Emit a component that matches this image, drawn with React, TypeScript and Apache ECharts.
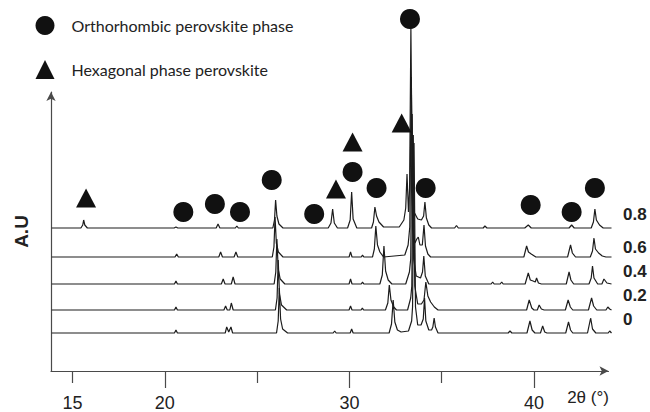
import React, { useEffect, useRef } from "react";
import * as echarts from "echarts";

// ---- data -------------------------------------------------------------
// Diffraction profiles, [2θ (deg), intensity above the trace's own baseline]
const TRACE_LABELS = ["0.8", "0.6", "0.4", "0.2", "0"];
// vertical offset of each stacked profile (same units as intensity)
const TRACE_OFFSETS = [143, 114, 87, 61, 38];

const PROFILE_08 = [
  [13.87, 0],
  [15.45, 0], [15.55, 3], [15.6, 8], [15.66, 3], [15.8, 0],
  [20.5, 0], [20.6, 1], [20.7, 0],
  [22.78, 0], [22.88, 4], [22.98, 0],
  [23.82, 0], [23.9, 2], [23.98, 0],
  [25.85, 0], [25.94, 8], [26.0, 28], [26.07, 12], [26.18, 4], [26.4, 0],
  [28.85, 0], [29.0, 5], [29.09, 19], [29.18, 5], [29.35, 0],
  [29.9, 0], [30.04, 8], [30.12, 36], [30.2, 9], [30.4, 0],
  [31.2, 0], [31.3, 6], [31.38, 21], [31.47, 12], [31.6, 6], [31.85, 1],
  [32.7, 1], [32.95, 8], [33.05, 20], [33.12, 54], [33.2, 16], [33.26, 40],
  [33.33, 200], [33.41, 40], [33.5, 16], [33.7, 9], [33.9, 8], [34.02, 12],
  [34.09, 26], [34.17, 10], [34.3, 3], [34.45, 0],
  [35.7, 0], [35.8, 2.5], [35.9, 0],
  [37.25, 0], [37.34, 2], [37.45, 0],
  [39.5, 0], [39.69, 3], [39.85, 0],
  [41.9, 0], [42.04, 3], [42.18, 0],
  [43.1, 0], [43.22, 6], [43.3, 19], [43.38, 8], [43.55, 3], [43.75, 0],
  [44.2, 0],
];

const PROFILE_06 = [
  [13.87, 0],
  [20.55, 0], [20.64, 3], [20.73, 0],
  [22.92, 0], [23.02, 5], [23.12, 0],
  [23.75, 0], [23.85, 5], [23.95, 0],
  [25.82, 0], [25.91, 10], [25.97, 40], [26.04, 14], [26.15, 5], [26.4, 0],
  [29.98, 0], [30.06, 5], [30.14, 0],
  [30.64, 0], [30.71, 2], [30.78, 0],
  [31.25, 0], [31.35, 8], [31.43, 31], [31.52, 12], [31.65, 5], [31.85, 0],
  [33.0, 2], [33.18, 12], [33.27, 30], [33.35, 180], [33.43, 28], [33.55, 14],
  [33.65, 18], [33.73, 20], [33.82, 12], [33.95, 12], [34.04, 32], [34.12, 11],
  [34.25, 3], [34.4, 0],
  [39.45, 0], [39.6, 11], [39.7, 5], [39.85, 3], [40.1, 0],
  [41.82, 0], [41.98, 12], [42.08, 4], [42.25, 0],
  [43.05, 0], [43.17, 6], [43.25, 19], [43.33, 8], [43.5, 4], [43.7, 1], [43.9, 0],
  [44.2, 0],
];

const PROFILE_04 = [
  [13.87, 0],
  [20.52, 0], [20.6, 3], [20.68, 0],
  [23.06, 0], [23.16, 5], [23.26, 0],
  [23.6, 0], [23.7, 7], [23.8, 0],
  [25.92, 0], [26.01, 12], [26.07, 45], [26.14, 15], [26.25, 5], [26.5, 0],
  [29.98, 0], [30.06, 5], [30.14, 0],
  [30.64, 0], [30.71, 2], [30.78, 0],
  [31.65, 0], [31.78, 9], [31.87, 38], [31.96, 13], [32.1, 4], [32.3, 0],
  [33.05, 0], [33.25, 12], [33.32, 25], [33.4, 170], [33.48, 25], [33.62, 8],
  [33.85, 6], [33.96, 12], [34.03, 28], [34.11, 8], [34.3, 0],
  [37.68, 0], [37.76, 2], [37.84, 0],
  [38.17, 0], [38.25, 2], [38.33, 0],
  [39.52, 0], [39.69, 11], [39.8, 4], [39.95, 3], [40.07, 2], [40.14, 6], [40.24, 1], [40.4, 0],
  [41.75, 0], [41.9, 12], [42.0, 4], [42.15, 0],
  [42.98, 0], [43.1, 6], [43.17, 18], [43.25, 6], [43.45, 0],
  [43.68, 0], [43.79, 5], [43.95, 1], [44.2, 0],
];

const PROFILE_02 = [
  [13.87, 0],
  [20.52, 0], [20.6, 3], [20.68, 0],
  [23.2, 0], [23.29, 4], [23.38, 0], [23.52, 0], [23.6, 7], [23.7, 0],
  [25.99, 0], [26.08, 12], [26.14, 50], [26.21, 16], [26.32, 5], [26.6, 0],
  [29.98, 0], [30.06, 4], [30.14, 0],
  [30.63, 0], [30.7, 2], [30.77, 0],
  [31.95, 0], [32.08, 7], [32.16, 25], [32.25, 10], [32.4, 3], [32.55, 0],
  [33.15, 0], [33.32, 12], [33.38, 24], [33.46, 175], [33.54, 24], [33.7, 6],
  [33.9, 6], [34.04, 10], [34.14, 28], [34.25, 14], [34.4, 8], [34.6, 3], [34.8, 0],
  [39.6, 0], [39.74, 10], [39.88, 2], [40.0, 0],
  [40.18, 0], [40.28, 5], [40.4, 1], [40.55, 0],
  [41.7, 0], [41.85, 10], [41.97, 3], [42.1, 0],
  [42.95, 0], [43.12, 12], [43.23, 4], [43.4, 0],
  [43.9, 0], [44.0, 3], [44.1, 1], [44.2, 0],
];

const PROFILE_0 = [
  [13.87, 0],
  [20.52, 0], [20.6, 3], [20.68, 0],
  [23.27, 0], [23.35, 6], [23.46, 1], [23.58, 6], [23.67, 0],
  [26.05, 0], [26.14, 12], [26.2, 45], [26.27, 14], [26.38, 4], [26.65, 0],
  [29.12, 0], [29.2, 2], [29.28, 0],
  [30.04, 0], [30.12, 4], [30.2, 0],
  [32.15, 0], [32.28, 9], [32.37, 33], [32.46, 11], [32.6, 3], [32.8, 1],
  [33.2, 2], [33.37, 12], [33.42, 26], [33.5, 190], [33.58, 26], [33.7, 8],
  [33.88, 8], [34.0, 14], [34.07, 35], [34.14, 12], [34.3, 3], [34.45, 3],
  [34.52, 6], [34.59, 15], [34.66, 6], [34.8, 0],
  [38.6, 0], [38.7, 2], [38.8, 0],
  [39.62, 0], [39.78, 12], [39.9, 3], [40.05, 0],
  [40.35, 0], [40.47, 7], [40.58, 1], [40.7, 0],
  [41.72, 0], [41.87, 11], [41.98, 3], [42.1, 0],
  [42.9, 0], [43.07, 15], [43.17, 4], [43.35, 0],
  [44.02, 0], [44.1, 2], [44.2, 0],
];

const PROFILES = [PROFILE_08, PROFILE_06, PROFILE_04, PROFILE_02, PROFILE_0];

// Phase markers placed above their reflections, [2θ, height]
const ORTHO_NAME = "Orthorhombic perovskite phase";
const HEX_NAME = "Hexagonal phase perovskite";
const ORTHO_MARKS = [
  [21.0, 159], [22.71, 167], [24.07, 159], [25.79, 191], [28.09, 157],
  [30.17, 199], [31.47, 183], [33.28, 352], [34.13, 183], [39.82, 166],
  [42.04, 159], [43.3, 183],
];
const HEX_MARKS = [[15.73, 173], [29.27, 182], [30.17, 229], [32.83, 248]];

const MAJOR_TICKS = [20, 30, 40];
const MINOR_TICKS = [15, 25, 35];
const TICK_LABELS = [15, 20, 30, 40];

// ---- layout -----------------------------------------------------------
const W = 650;
const H = 412;
const PLOT_LEFT = 51;
const AXIS_Y = 371;
const X_MIN = 13.83;
const PX_PER_DEG = 18.456;
const AXIS_END_PX = 608.5; // arrow tip lands ~4.5px further right
const TRACE_END_PX = 615;
const AXIS_TOP_PX = 92;
const DATA_TOP_PX = 11;
const LABEL_Y = [214, 247, 271, 295, 319];

const INK = "#1c1c1c";
const MARK = "#111111";
const AXIS_COLOR = "#4a4a4a";
const SANS = '"Liberation Sans", Arial, sans-serif';

export default function App() {
  const ref = useRef<HTMLDivElement>(null);

  useEffect(() => {
    if (!ref.current) return;
    const chart = echarts.init(ref.current, null, { renderer: "svg" });

    const axisMax = X_MIN + (AXIS_END_PX - PLOT_LEFT) / PX_PER_DEG;
    const dataMax = X_MIN + (TRACE_END_PX - PLOT_LEFT) / PX_PER_DEG;
    const dataHeight = AXIS_Y - DATA_TOP_PX;

    const traceSeries = PROFILES.map((pts, i) => ({
      type: "line",
      name: TRACE_LABELS[i],
      xAxisIndex: 2,
      yAxisIndex: 1,
      data: pts.map(([t, v]) => [t, v + TRACE_OFFSETS[i]]),
      showSymbol: false,
      symbol: "none",
      lineStyle: { color: INK, width: 1.2 },
      silent: true,
      z: 2,
    }));

    const option = {
      animation: false,
      backgroundColor: "#ffffff",
      legend: {
        orient: "vertical",
        left: 35.5,
        top: 16,
        padding: 0,
        itemWidth: 19,
        itemHeight: 19,
        itemGap: 25,
        selectedMode: false,
        itemStyle: { color: MARK, opacity: 1 },
        data: [
          { name: ORTHO_NAME, icon: "circle" },
          { name: HEX_NAME, icon: "triangle" },
        ],
        textStyle: {
          fontFamily: "Lato, sans-serif",
          fontSize: 16,
          color: "#222",
          padding: [0, 0, 0, 12],
        },
      },
      grid: [
        {
          left: PLOT_LEFT,
          right: W - AXIS_END_PX,
          top: AXIS_TOP_PX,
          bottom: H - AXIS_Y,
        },
        {
          left: PLOT_LEFT,
          right: W - TRACE_END_PX,
          top: DATA_TOP_PX,
          bottom: H - AXIS_Y,
        },
      ],
      xAxis: [
        {
          gridIndex: 0,
          type: "value",
          position: "bottom",
          min: X_MIN,
          max: axisMax,
          axisLine: {
            show: true,
            symbol: ["none", "arrow"],
            symbolSize: [7, 9],
            lineStyle: { color: AXIS_COLOR, width: 1.2 },
          },
          axisTick: {
            show: true,
            customValues: MAJOR_TICKS,
            length: 17,
            lineStyle: { color: AXIS_COLOR, width: 1.2 },
          },
          axisLabel: {
            show: true,
            customValues: TICK_LABELS,
            margin: 23,
            fontSize: 18,
            fontFamily: SANS,
            color: "#222",
          },
          splitLine: { show: false },
        },
        {
          gridIndex: 0,
          type: "value",
          position: "bottom",
          min: X_MIN,
          max: axisMax,
          axisLine: { show: false },
          axisTick: {
            show: true,
            customValues: MINOR_TICKS,
            length: 12,
            lineStyle: { color: AXIS_COLOR, width: 1.2 },
          },
          axisLabel: { show: false },
          splitLine: { show: false },
        },
        {
          gridIndex: 1,
          type: "value",
          min: X_MIN,
          max: dataMax,
          show: false,
        },
      ],
      yAxis: [
        {
          gridIndex: 0,
          type: "value",
          min: 0,
          max: 1,
          axisLine: {
            show: true,
            symbol: ["none", "arrow"],
            symbolSize: [7, 9],
            lineStyle: { color: AXIS_COLOR, width: 1.2 },
          },
          axisTick: { show: false },
          axisLabel: { show: false },
          splitLine: { show: false },
          name: "A.U",
          nameLocation: "middle",
          nameGap: 20,
          nameRotate: 90,
          nameTextStyle: {
            fontFamily: SANS,
            fontSize: 19,
            fontWeight: "bold",
            color: "#222",
          },
        },
        {
          gridIndex: 1,
          type: "value",
          min: 0,
          max: dataHeight,
          show: false,
        },
      ],
      series: [
        ...traceSeries,
        {
          type: "scatter",
          name: ORTHO_NAME,
          xAxisIndex: 2,
          yAxisIndex: 1,
          data: ORTHO_MARKS,
          symbol: "circle",
          symbolSize: 20,
          itemStyle: { color: MARK, opacity: 1 },
          silent: true,
          z: 5,
        },
        {
          type: "scatter",
          name: HEX_NAME,
          xAxisIndex: 2,
          yAxisIndex: 1,
          data: HEX_MARKS,
          symbol: "triangle",
          symbolSize: [20, 19],
          itemStyle: { color: MARK, opacity: 1 },
          silent: true,
          z: 5,
        },
      ],
      graphic: [
        ...TRACE_LABELS.map((label, i) => ({
          type: "text",
          x: 623,
          y: LABEL_Y[i],
          style: {
            text: label,
            fontFamily: SANS,
            fontSize: 17,
            fontWeight: "bold",
            fill: "#222",
            verticalAlign: "middle",
          },
        })),
        {
          type: "text",
          x: 588,
          y: 397,
          style: {
            text: "2θ (°)",
            fontFamily: SANS,
            fontSize: 17,
            fill: "#222",
            align: "center",
            verticalAlign: "middle",
          },
        },
      ],
    };

    chart.setOption(option as any);
    return () => chart.dispose();
  }, []);

  return (
    <div
      ref={ref}
      style={{ position: "fixed", left: 0, top: 0, width: W, height: H }}
    />
  );
}
